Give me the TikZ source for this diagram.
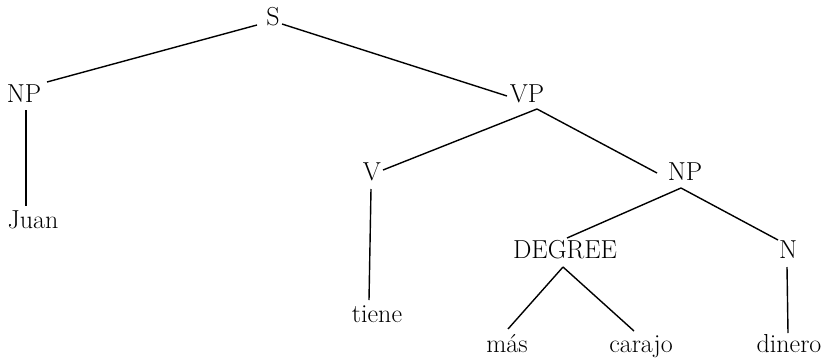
\documentclass[tikz,border=0pt]{standalone}
\usepackage{fontspec}
\setmainfont{Latin Modern Roman}
\begin{document}
\begin{tikzpicture}[x=1pt,y=-1pt,
  lab/.style={anchor=base,inner sep=0pt,font=\fontsize{26}{30}\selectfont},
  edge/.style={line width=1.4pt}]
\useasboundingbox (0,0) rectangle (829,359);
\node[lab] (S) at (273,25) {S};
\node[lab] (NP) at (24,102) {NP};
\node[lab] (VP) at (527,102) {VP};
\node[lab] (Juan) at (33,228) {Juan};
\node[lab] (V) at (372,180) {V};
\node[lab] (NPb) at (685,180) {NP};
\node[lab] (tiene) at (377,322) {tiene};
\node[lab] (DEG) at (565,258) {DEGREE};
\node[lab] (N) at (788,258) {N};
\node[lab] (mas) at (507,352) {más};
\node[lab] (carajo) at (641,352) {carajo};
\node[lab] (dinero) at (789,352) {dinero};
\draw[edge] ([shift={(-16,0)}]S.base) -- ([shift={(23,-20)}]NP.base);
\draw[edge] ([shift={(9,-1)}]S.base) -- ([shift={(-20,-6)}]VP.base);
\draw[edge] ([shift={(2,8)}]NP.base) -- ([shift={(-7,-22)}]Juan.base);
\draw[edge] ([shift={(10,7)}]VP.base) -- ([shift={(11,-10)}]V.base);
\draw[edge] ([shift={(10,7)}]VP.base) -- ([shift={(-28,-7)}]NPb.base);
\draw[edge] ([shift={(-1,9)}]V.base) -- ([shift={(-8,-22)}]tiene.base);
\draw[edge] ([shift={(-4,8)}]NPb.base) -- ([shift={(2,-20)}]DEG.base);
\draw[edge] ([shift={(-4,8)}]NPb.base) -- ([shift={(-10,-18)}]N.base);
\draw[edge] ([shift={(-2,9)}]DEG.base) -- ([shift={(1,-23)}]mas.base);
\draw[edge] ([shift={(-2,9)}]DEG.base) -- ([shift={(-7,-21)}]carajo.base);
\draw[edge] ([shift={(-1,9)}]N.base) -- ([shift={(-1,-19)}]dinero.base);
\end{tikzpicture}
\end{document}
